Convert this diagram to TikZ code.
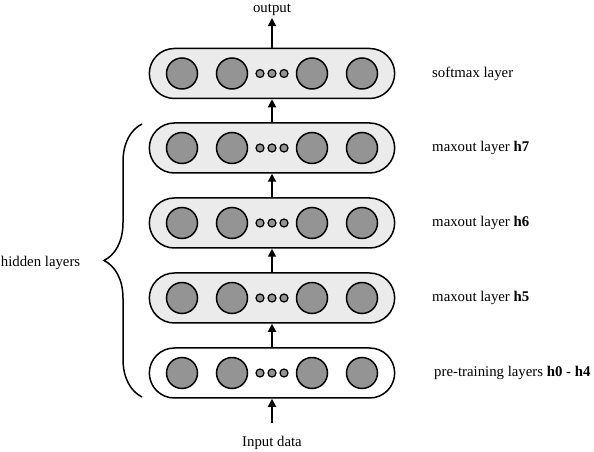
\documentclass[tikz,border=0pt]{standalone}
\usepackage{fontspec}
\setmainfont{Liberation Serif}
\usetikzlibrary{shapes.misc,decorations.pathreplacing,arrows.meta}
\tikzset{
  layer/.style = {rounded rectangle, draw, line width=1.5pt, fill=black!8,
                  minimum width=252pt, minimum height=50pt},
  unit/.style  = {circle, draw, line width=1.5pt, fill=black!42,
                  minimum size=31pt, inner sep=0pt},
  dot/.style   = {circle, draw, line width=1.2pt, fill=black!42,
                  minimum size=8pt, inner sep=0pt},
  txt/.style   = {font=\fontsize{14.8}{17}\selectfont},
  lbl/.style   = {txt, anchor=west},
}
\begin{document}
\begin{tikzpicture}[x=1pt,y=1pt,>={Triangle[length=8pt,width=8pt]},line width=1.8pt]
            \useasboundingbox (0,0) rectangle (594,452);

            \node[layer,fill=white] (l0) at (272,79)    {};
            \node[layer]            (l1) at (272,154)   {};
            \node[layer]            (l2) at (272,229)   {};
            \node[layer]            (l3) at (272,304)   {};
            \node[layer]            (l4) at (272,378.5) {};

            \foreach \n/\y in {0/79,1/154,2/229,3/304,4/378.5} {
                \foreach \x in {182,232,312,362}
                    \node[unit] (u\n-\x) at (\x,\y) {};
                \foreach \x in {260,272,284}
                    \node[dot] (d\n-\x) at (\x,\y) {};
            }

            \node[lbl] (t0) at (430,79)    {pre-training layers \textbf{h0 - h4}};
            \node[lbl] (t1) at (428,154)   {maxout layer \textbf{h5}};
            \node[lbl] (t2) at (428,229)   {maxout layer \textbf{h6}};
            \node[lbl] (t3) at (428,304)   {maxout layer \textbf{h7}};
            \node[lbl] (t4) at (428,378.5) {softmax layer};

            \node[txt,anchor=base] (in)  at (272,5)   {Input data};
            \node[txt,anchor=base,inner sep=1pt] (out) at (272,439) {output};
            \node[txt,anchor=base west,inner sep=0pt] (hid) at (0,185) {hidden layers};

            \draw[->,shorten <=9pt] (in) -- (l0);
            \draw[->] (l0) -- (l1);
            \draw[->] (l1) -- (l2);
            \draw[->] (l2) -- (l3);
            \draw[->] (l3) -- (l4);
            \draw[->] (l4) -- (out);

            \draw[line width=1.5pt,decorate,decoration={brace,amplitude=38pt}]
                (142,55) -- (142,328);
        \end{tikzpicture}
\end{document}
